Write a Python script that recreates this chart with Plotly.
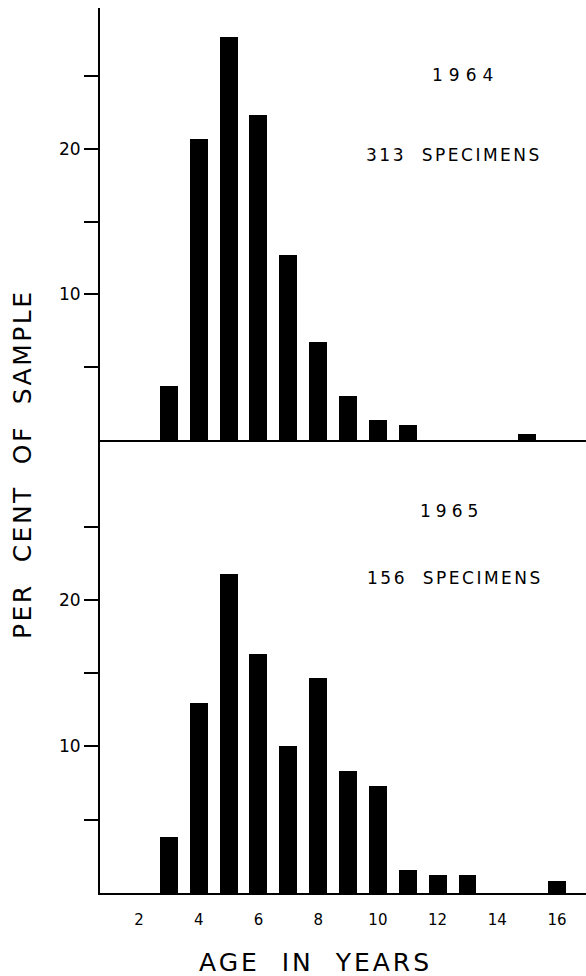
import plotly.graph_objects as go

# Data
ages_1964 = [3, 4, 5, 6, 7, 8, 9, 10, 11, 15]
pct_1964 = [3.7, 20.7, 27.7, 22.3, 12.7, 6.7, 3.0, 1.4, 1.0, 0.4]

ages_1965 = [3, 4, 5, 6, 7, 8, 9, 10, 11, 12, 13, 16]
pct_1965 = [3.8, 13.0, 21.8, 16.3, 10.0, 14.7, 8.3, 7.3, 1.6, 1.2, 1.2, 0.8]

x_tick_vals = [2, 4, 6, 8, 10, 12, 14, 16]
x_tick_text = ["2", "4", "6", "8", "10", "12", "14", "16"]
y_tick_vals = [5, 10, 15, 20, 25]
y_tick_text = ["", "10", "", "20", ""]

FONT = "DejaVu Sans"
W, H = 586, 976
ML, MR, MT, MB = 100, 0, 8, 83
split = (893 - 440) / (H - MT - MB)


def spaced(txt, px):
    return f'<span style="letter-spacing:{px}px">{txt}</span>'


fig = go.Figure()
fig.add_trace(go.Bar(x=ages_1964, y=pct_1964, width=0.6, marker=dict(color="black", line=dict(width=0)),
                     xaxis="x", yaxis="y", showlegend=False))
fig.add_trace(go.Bar(x=ages_1965, y=pct_1965, width=0.6, marker=dict(color="black", line=dict(width=0)),
                     xaxis="x2", yaxis="y2", showlegend=False))

xr = [0.694, 16.97]
common_x = dict(range=xr, showline=True, linecolor="black", linewidth=2, showgrid=False,
                zeroline=False, domain=[0, 1], automargin=False)
common_y = dict(showline=True, linecolor="black", linewidth=2, showgrid=False, zeroline=False,
                ticks="outside", ticklen=14, tickwidth=2, tickcolor="black",
                tickvals=y_tick_vals, ticktext=y_tick_text, automargin=False,
                ticklabelstandoff=0,
                tickfont=dict(family=FONT, size=17, color="black"))

fig.update_layout(
    width=W, height=H,
    margin=dict(l=ML, r=MR, t=MT, b=MB, autoexpand=False),
    paper_bgcolor="white", plot_bgcolor="white",
    bargap=0,
    xaxis=dict(**common_x, anchor="y", showticklabels=False, ticks=""),
    yaxis=dict(**common_y, domain=[split, 1], range=[0, 29.67], anchor="x"),
    xaxis2=dict(**common_x, anchor="y2", ticks="", tickvals=x_tick_vals, ticktext=x_tick_text,
                ticklabelstandoff=12, tickfont=dict(family=FONT, size=15, color="black")),
    yaxis2=dict(**common_y, domain=[0, split], range=[0, 30.92], anchor="x2"),
    font=dict(family=FONT, color="black"),
)

ann_font = dict(family=FONT, size=17, color="black")
fig.add_annotation(x=12.95, y=25.07, xref="x", yref="y", text=spaced("1964", 6), showarrow=False, font=ann_font)
fig.add_annotation(x=12.55, y=19.6, xref="x", yref="y", text=spaced("313\u00a0\u00a0SPECIMENS", 2.5), showarrow=False, font=ann_font)
fig.add_annotation(x=12.45, y=26.1, xref="x2", yref="y2", text=spaced("1965", 5), showarrow=False, font=ann_font)
fig.add_annotation(x=12.58, y=21.5, xref="x2", yref="y2", text=spaced("156\u00a0\u00a0SPECIMENS", 2.5), showarrow=False, font=ann_font)

plot_h = H - MT - MB
fig.add_annotation(x=(22 - ML) / (W - ML), y=(893 - 464) / plot_h, xref="paper", yref="paper",
                   xanchor="center", yanchor="middle",
                   text=spaced("PER\u00a0\u00a0CENT\u00a0\u00a0OF\u00a0\u00a0SAMPLE", 2.5), textangle=-90, showarrow=False,
                   font=dict(family=FONT, size=25, color="black"))
fig.add_annotation(x=(315 - ML) / (W - ML), y=(893 - 962) / plot_h, xref="paper", yref="paper",
                   xanchor="center", yanchor="middle",
                   text=spaced("AGE\u00a0\u00a0IN\u00a0\u00a0YEARS", 3), showarrow=False,
                   font=dict(family=FONT, size=25, color="black"))

fig.write_html("out.html")
